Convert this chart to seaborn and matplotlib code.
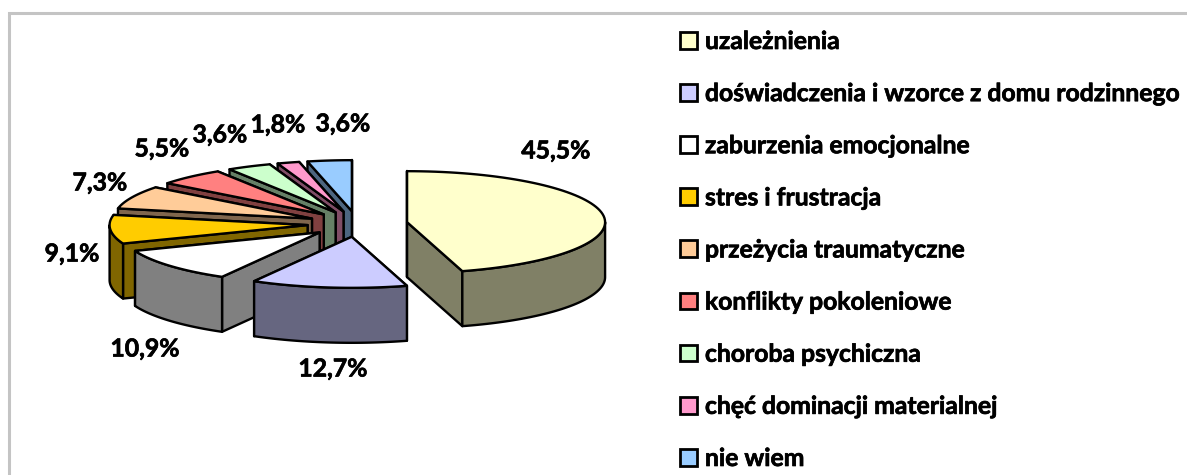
import numpy as np
import matplotlib
matplotlib.use("Agg")
import matplotlib.pyplot as plt
import matplotlib.patheffects as pe
from matplotlib.patches import Polygon, Patch
import seaborn as sns

categories = ["uzależnienia", "doświadczenia i wzorce z domu rodzinnego", "zaburzenia emocjonalne",
              "stres i frustracja", "przeżycia traumatyczne", "konflikty pokoleniowe",
              "choroba psychiczna", "chęć dominacji materialnej", "nie wiem"]
values = [45.5, 12.7, 10.9, 9.1, 7.3, 5.5, 3.6, 1.8, 3.6]
top_colors = ["#FFFFCC", "#CCCCFF", "#FFFFFF", "#FFCC00", "#FFCC99", "#FF8080", "#CCFFCC", "#FF99CC", "#99CCFF"]

# pie shape in pixels
CX, CY = 357.5, 224
RX, RY = 198, 51
HEIGHT = 55
EXPLODE = 0.253
LW = 1.7
FONT = 17.8
label_pos = [(556, 151), (333, 369), (145, 349), (72, 254), (100, 183), (162, 149), (220, 135), (278, 125), (343, 124)]

sns.set_theme(style="white")
plt.rcParams["font.family"] = ["Lato", "DejaVu Sans"]
plt.rcParams["text.color"] = "black"
palette = sns.color_palette(top_colors)
# Lato bold is a bit lighter than the original font
thick = [pe.withStroke(linewidth=0.5, foreground="black")]

fig = plt.figure(figsize=(11.87, 4.75), dpi=100)
ax = fig.add_axes([0, 0, 1, 1])
ax.set_xlim(0, 1187)
ax.set_ylim(475, 0)
ax.axis("off")

# grey frame, only left and top show in the original
ax.plot([8.5, 8.5, 1187], [475, 12.5, 12.5], color="#C4C4C4", lw=2.2, solid_joinstyle="miter")


def point(angle, r=1.0):
    a = np.radians(angle)
    return np.sin(a) * RX * r, -np.cos(a) * RY * r


edges = np.concatenate([[0], np.cumsum(values)]) / sum(values) * 360


def draw_slice(i):
    start, end = edges[i], edges[i + 1]
    mid = (start + end) / 2
    ox, oy = point(mid, EXPLODE)
    ax_, ay_ = CX + ox, CY + oy
    arc = np.linspace(start, end, 80)
    px, py = point(arc)
    px, py = ax_ + px, ay_ + py
    top = palette[i]
    wall = tuple(c * 0.5 for c in top)
    style = dict(edgecolor="black", lw=LW, joinstyle="round")

    # side faces, the one further back goes first
    faces = sorted([(px[0], py[0]), (px[-1], py[-1])], key=lambda p: p[1])
    for fx, fy in faces:
        ax.add_patch(Polygon([(ax_, ay_), (fx, fy), (fx, fy + HEIGHT), (ax_, ay_ + HEIGHT)],
                             facecolor=wall, **style))
    # outer wall, front half only
    lo, hi = max(start, 90), min(end, 270)
    if hi > lo:
        wa = np.linspace(lo, hi, 60)
        wx, wy = point(wa)
        wx, wy = ax_ + wx, ay_ + wy
        pts = list(zip(wx, wy)) + list(zip(wx[::-1], wy[::-1] + HEIGHT))
        ax.add_patch(Polygon(pts, facecolor=wall, **style))
    # top of slice
    ax.add_patch(Polygon([(ax_, ay_)] + list(zip(px, py)), facecolor=top, **style))


mids = (edges[:-1] + edges[1:]) / 2
for i in np.argsort(-np.cos(np.radians(mids))):
    draw_slice(i)

for v, (x, y) in zip(values, label_pos):
    ax.text(x, y, f"{v:.1f}".replace(".", ",") + "%", ha="center", va="center",
            fontsize=FONT, fontweight="bold", color="black", path_effects=thick)

handles = [Patch(facecolor=c, edgecolor="black", lw=LW + 0.3) for c in palette]
leg = ax.legend(handles, categories, loc="upper left", bbox_to_anchor=(680 / 1187, 1 - 30 / 475),
                frameon=False, borderpad=0, borderaxespad=0,
                handlelength=0.67, handleheight=0.67, handletextpad=0.34, labelspacing=1.178,
                labelcolor="black",
                prop={"family": ["Lato", "DejaVu Sans"], "weight": "bold", "size": FONT})
for t in leg.get_texts():
    t.set_path_effects(thick)

fig.savefig("out.png", dpi=100)
